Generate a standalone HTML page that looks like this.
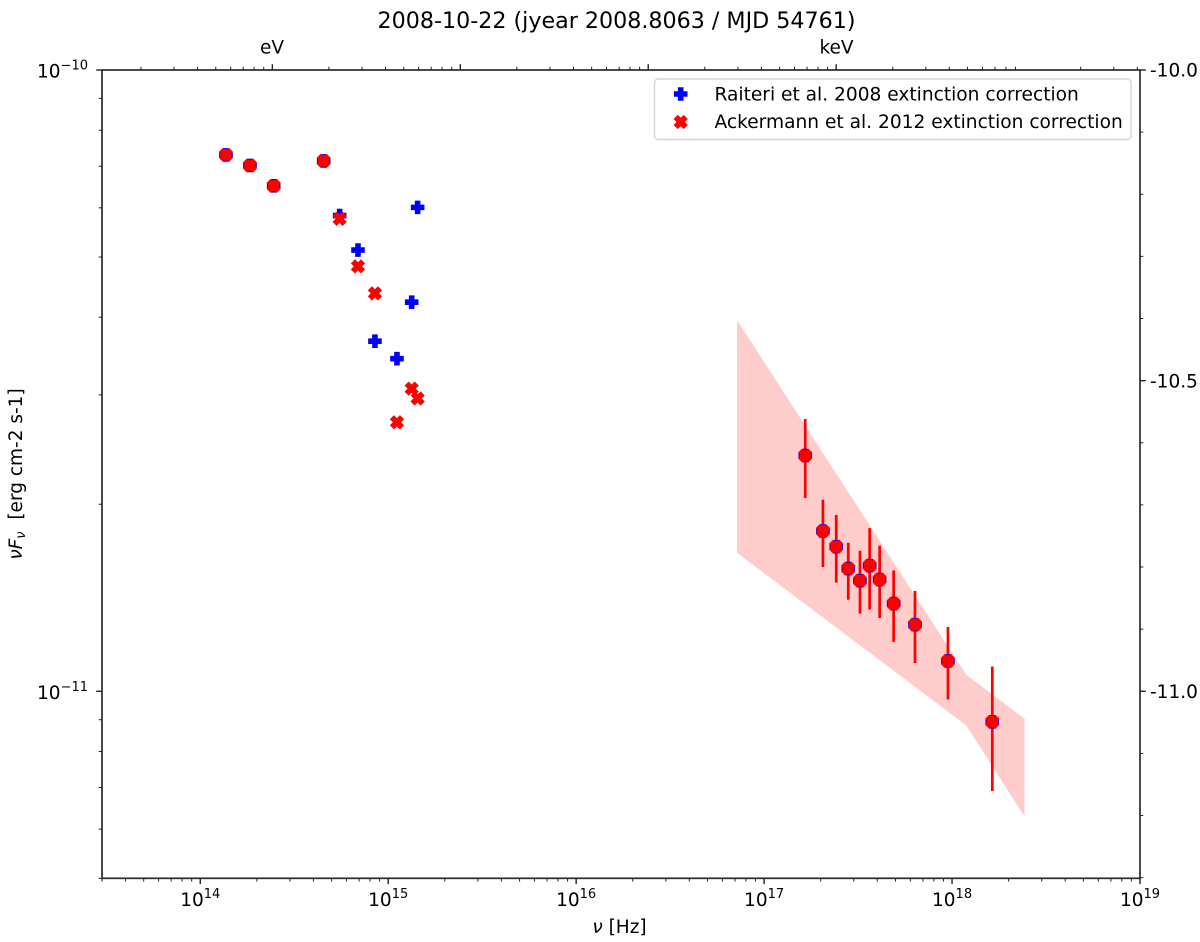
<!DOCTYPE html>
<html>
<head>
<meta charset="utf-8">
<title>SED chart</title>
<style>
html,body{margin:0;padding:0;background:#fff;width:1200px;height:942px;overflow:hidden}
svg{display:block}
text{font-family:"DejaVu Sans","Liberation Sans",sans-serif;fill:#000;white-space:pre}
</style>
</head>
<body>
<svg id="chart" xmlns="http://www.w3.org/2000/svg" width="1200" height="942" viewBox="0 0 1200 942">
  <rect x="0" y="0" width="1200" height="942" fill="#fff"/>
  <g id="band"></g>
  <g id="errs"></g>
  <g id="markers"></g>
  <g id="ticks"></g>
  <g id="ticklabels"></g>
  <rect x="102" y="70" width="1038" height="808.3" fill="none" stroke="#2a2a2a" stroke-width="1.7"/>

  <text x="616.5" y="28" font-size="22.2" text-anchor="middle">2008-10-22 (jyear 2008.8063 / MJD 54761)</text>
  <text x="272" y="53.5" font-size="18.5" text-anchor="middle">eV</text>
  <text x="836.5" y="53.5" font-size="18.5" text-anchor="middle">keV</text>
  <text x="619.5" y="933" font-size="18.5" text-anchor="middle"><tspan font-style="italic">ν</tspan> [Hz]</text>
  <text transform="translate(22,474) rotate(-90)" font-size="18.5" text-anchor="middle"><tspan font-style="italic">νF</tspan><tspan font-style="italic" font-size="13" dy="2.8">ν</tspan><tspan dy="-2.8">  [erg cm-2 s-1]</tspan></text>

  <g>
    <rect x="654.5" y="79" width="476.5" height="60.5" rx="3.5" ry="3.5" fill="#fff" fill-opacity="0.8" stroke="#d6d6d6" stroke-width="1.4"/>
    <path id="legend-plus" fill="#00f" stroke="#00f" stroke-width="1.6"/>
    <path id="legend-x" fill="#f00" stroke="#f00" stroke-width="1.6"/>
    <text x="714.5" y="100.5" font-size="18.6">Raiteri et al. 2008 extinction correction</text>
    <text x="714.5" y="128" font-size="18.6">Ackermann et al. 2012 extinction correction</text>
  </g>
</svg>
<script>
// ---- chart data ----
var opticalNu = [1.370e14,1.838e14,2.458e14,4.536e14,5.516e14,6.904e14,8.50e14,1.113e15,1.333e15,1.434e15];
var raiteriFlux = [7.30e-11,7.02e-11,6.51e-11,7.14e-11,5.83e-11,5.13e-11,3.66e-11,3.43e-11,4.23e-11,6.01e-11];
var ackermannFlux = [7.30e-11,7.02e-11,6.51e-11,7.14e-11,5.76e-11,4.83e-11,4.37e-11,2.71e-11,3.07e-11,2.96e-11];
var commonOpticalCount = 4;

var xrayNu = [1.655e17,2.056e17,2.420e17,2.804e17,3.236e17,3.644e17,4.119e17,4.890e17,6.35e17,9.51e17,1.637e18];
var xrayFlux = [2.396e-11,1.811e-11,1.709e-11,1.576e-11,1.507e-11,1.593e-11,1.513e-11,1.384e-11,1.280e-11,1.119e-11,8.93e-12];
var xrayHigh = [2.743e-11,2.034e-11,1.922e-11,1.734e-11,1.683e-11,1.831e-11,1.715e-11,1.565e-11,1.451e-11,1.269e-11,1.096e-11];
var xrayLow = [2.047e-11,1.585e-11,1.496e-11,1.404e-11,1.334e-11,1.354e-11,1.312e-11,1.201e-11,1.110e-11,9.70e-12,6.91e-12];

var bandNu = [7.17e16,1.190e18,2.433e18];
var bandUpper = [3.96e-11,1.063e-11,9.03e-12];
var bandLower = [1.671e-11,8.81e-12,6.28e-12];

var xTickExponents = [14,15,16,17,18,19];
var yTickExponents = [-10,-11];
var rightMajorTicks = [-10.0,-10.5,-11.0];
var rightMinorTicks = [-10.1,-10.2,-10.3,-10.4,-10.6,-10.7,-10.8,-10.9,-11.1,-11.2,-11.3];
var rightTickLabels = ["-10.0","-10.5","-11.0"];
var topMajorEv = [1,10,100,1000];
var topMinorEv = [0.2,0.3,0.4,0.5,0.6,0.7,0.8,0.9,2,3,4,5,6,7,8,9,20,30,40,50,60,70,80,90,200,300,400,500,600,700,800,900,2000,3000,4000,5000,6000,7000,8000,9000,20000,30000,40000];
var evToHz = 2.418e14;

// ---- axis functions ----
var L = 102, R = 1140, T = 70, B = 878.3;
var xMin = 3e13, xMax = 1e19, yMin = 5e-12, yMax = 1e-10;
function xPos(nu){ return L + (Math.log10(nu) - Math.log10(xMin)) / (Math.log10(xMax) - Math.log10(xMin)) * (R - L); }
function yPos(f){ return B - (Math.log10(f) - Math.log10(yMin)) / (Math.log10(yMax) - Math.log10(yMin)) * (B - T); }
function yPosLog(v){ return yPos(Math.pow(10, v)); }

var NS = 'http://www.w3.org/2000/svg';
function mk(tag, parent){ var e = document.createElementNS(NS, tag); parent.appendChild(e); return e; }
function plusPath(cx, cy){
  var u = 2, pts = [[-1,-3],[1,-3],[1,-1],[3,-1],[3,1],[1,1],[1,3],[-1,3],[-1,1],[-3,1],[-3,-1],[-1,-1]];
  return 'M' + pts.map(function(p){ return (cx + p[0]*u).toFixed(2) + ' ' + (cy + p[1]*u).toFixed(2); }).join('L') + 'Z';
}
function crossPath(cx, cy){
  var u = 3, pts = [[-1,-2],[0,-1],[1,-2],[2,-1],[1,0],[2,1],[1,2],[0,1],[-1,2],[-2,1],[-1,0],[-2,-1]];
  return 'M' + pts.map(function(p){ return (cx + p[0]*u).toFixed(2) + ' ' + (cy + p[1]*u).toFixed(2); }).join('L') + 'Z';
}

// ---- band ----
var bandLayer = document.getElementById('band');
var bandPts = [];
bandNu.forEach(function(n, i){ bandPts.push(xPos(n).toFixed(2) + ',' + yPos(bandUpper[i]).toFixed(2)); });
for (var bi = bandNu.length - 1; bi >= 0; bi--) { bandPts.push(xPos(bandNu[bi]).toFixed(2) + ',' + yPos(bandLower[bi]).toFixed(2)); }
var bandPoly = mk('polygon', bandLayer);
bandPoly.setAttribute('points', bandPts.join(' '));
bandPoly.setAttribute('fill', '#f00');
bandPoly.setAttribute('fill-opacity', '0.2');



// ---- error bars ----
var errLayer = document.getElementById('errs');
xrayNu.forEach(function(n, i){
  var ln = mk('line', errLayer);
  ln.setAttribute('x1', xPos(n));
  ln.setAttribute('x2', xPos(n));
  ln.setAttribute('y1', yPos(xrayHigh[i]));
  ln.setAttribute('y2', yPos(xrayLow[i]));
  ln.setAttribute('stroke', '#f00');
  ln.setAttribute('stroke-width', '2.7');
  
  
});

// ---- markers ----
var markerLayer = document.getElementById('markers');
opticalNu.forEach(function(n, i){
  var p = mk('path', markerLayer);
  p.setAttribute('d', plusPath(xPos(n), yPos(raiteriFlux[i])));
  p.setAttribute('fill', '#00f');
  p.setAttribute('stroke', '#00f');
  p.setAttribute('stroke-width', '1.6');
  
  
});
opticalNu.forEach(function(n, i){
  var p = mk('path', markerLayer);
  p.setAttribute('d', crossPath(xPos(n), yPos(ackermannFlux[i])));
  p.setAttribute('fill', '#f00');
  p.setAttribute('stroke', '#f00');
  p.setAttribute('stroke-width', '1.6');
  
  
});
opticalNu.slice(0, commonOpticalCount).forEach(function(n, i){
  var c = mk('circle', markerLayer);
  c.setAttribute('cx', xPos(n));
  c.setAttribute('cy', yPos(ackermannFlux[i]));
  c.setAttribute('r', '5.8');
  c.setAttribute('fill', '#f00');
  
  
});
xrayNu.forEach(function(n, i){
  var p = mk('path', markerLayer);
  p.setAttribute('d', plusPath(xPos(n), yPos(xrayFlux[i])));
  p.setAttribute('fill', '#00f');
  p.setAttribute('stroke', '#00f');
  p.setAttribute('stroke-width', '1.6');
  
  
  var x = mk('path', markerLayer);
  x.setAttribute('d', crossPath(xPos(n), yPos(xrayFlux[i])));
  x.setAttribute('fill', '#f00');
  x.setAttribute('stroke', '#f00');
  x.setAttribute('stroke-width', '1.6');
  
  
  var c = mk('circle', markerLayer);
  c.setAttribute('cx', xPos(n));
  c.setAttribute('cy', yPos(xrayFlux[i]));
  c.setAttribute('r', '5.8');
  c.setAttribute('fill', '#f00');
  
  
});

// ---- ticks ----
var tickLayer = document.getElementById('ticks');
function tick(x1, y1, x2, y2, w){
  var t = mk('line', tickLayer);
  t.setAttribute('x1', x1);
  t.setAttribute('y1', y1);
  t.setAttribute('x2', x2);
  t.setAttribute('y2', y2);
  t.setAttribute('stroke', '#222');
  t.setAttribute('stroke-width', w);
  
  
}
var MAJ = 5.8, MIN = 3.3;
// bottom axis
xTickExponents.forEach(function(e){
  var dec = Math.pow(10, e);
  tick(xPos(dec), B, xPos(dec), B + MAJ, 1.4);
});
for (var e = 13; e < 19; e++) {
  for (var m = 2; m < 10; m++) {
    var v = m * Math.pow(10, e);
    if (v >= xMin && v <= xMax) tick(xPos(v), B, xPos(v), B + MIN, 1);
  }
}
// top axis
topMajorEv.forEach(function(ev){ tick(xPos(ev * evToHz), T, xPos(ev * evToHz), T - MAJ, 1.4); });
topMinorEv.forEach(function(ev){ tick(xPos(ev * evToHz), T, xPos(ev * evToHz), T - MIN, 1); });
// left axis
yTickExponents.forEach(function(e){
  var dec = Math.pow(10, e);
  tick(L, yPos(dec), L - MAJ, yPos(dec), 1.4);
});
for (var ye = -12; ye < -10; ye++) {
  for (var ym = 2; ym < 10; ym++) {
    var yv = ym * Math.pow(10, ye);
    if (yv >= yMin && yv <= yMax) tick(L, yPos(yv), L - MIN, yPos(yv), 1);
  }
}
// right axis
rightMajorTicks.forEach(function(v){ tick(R, yPosLog(v), R + MAJ, yPosLog(v), 1.4); });
rightMinorTicks.forEach(function(v){ tick(R, yPosLog(v), R + MIN, yPosLog(v), 1); });

// ---- tick labels ----
var labelLayer = document.getElementById('ticklabels');
xTickExponents.forEach(function(e){
  var t = mk('text', labelLayer);
  t.setAttribute('x', xPos(Math.pow(10, e)));
  t.setAttribute('y', 906);
  t.setAttribute('font-size', '18.5');
  t.setAttribute('text-anchor', 'middle');
  
  
  t.appendChild(document.createTextNode('10'));
  var s = mk('tspan', t);
  s.setAttribute('font-size', '13');
  s.setAttribute('dy', '-8');
  s.textContent = String(e);
});
yTickExponents.forEach(function(e){
  var t = mk('text', labelLayer);
  t.setAttribute('x', 88);
  t.setAttribute('y', yPos(Math.pow(10, e)) + 7.5);
  t.setAttribute('font-size', '18.5');
  t.setAttribute('text-anchor', 'end');
  
  
  t.appendChild(document.createTextNode('10'));
  var s = mk('tspan', t);
  s.setAttribute('font-size', '13');
  s.setAttribute('dy', '-8');
  s.textContent = '\u2212' + Math.abs(e);
});
rightMajorTicks.forEach(function(v, i){
  var t = mk('text', labelLayer);
  t.setAttribute('x', 1150);
  t.setAttribute('y', yPosLog(v) + 6.7);
  t.setAttribute('font-size', '18.5');
  
  
  t.textContent = rightTickLabels[i];
});

// ---- legend markers ----
document.getElementById('legend-plus').setAttribute('d', plusPath(680.7, 94));
document.getElementById('legend-x').setAttribute('d', crossPath(680.7, 122));
</script>
</body>
</html>
